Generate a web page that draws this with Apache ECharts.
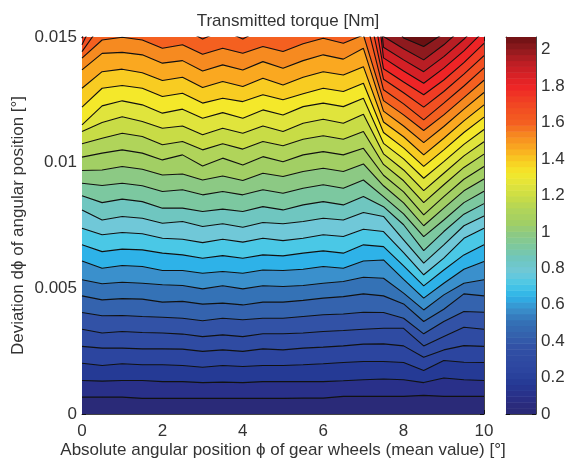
<!DOCTYPE html>
<html><head><meta charset="utf-8">
<style>html,body{margin:0;padding:0;background:#fff}#c{width:566px;height:464px}</style>
<script src="https://cdn.jsdelivr.net/npm/echarts@6/dist/echarts.min.js"></script>
</head><body><div id="c"></div>
<script>
const chartTitle = 'Transmitted torque [Nm]';
const xTitle = 'Absolute angular position \u03d5 of gear wheels (mean value) [\u00b0]';
const yTitle = 'Deviation d\u03d5 of angular position [\u00b0]';
const positions = [0,0.5,1,1.5,2,2.5,3,3.5,4,4.5,5,5.5,6,6.5,7,7.5,8,8.5,9,9.5,10];
const levelStep = 0.068;
const colorbarMax = 2.07;
const colorbarSteps = 64;
const bandColors = ['#2a2a78','#293089','#253a95','#2c459f','#2f4ba2','#3252a6','#3463ae','#3472b6','#3a90cc','#2eb2e8','#4ac8e6','#70c8d8','#6fc6c0','#7cc8a0','#8cc984','#a2cf64','#b0d45a','#c8dc46','#e0e43c','#f4e82a','#f8cc22','#faa820','#f68a20','#f46020','#f25022','#f03c24','#ee2426','#d42026','#b81e24','#8e1a1e','#6a1012'];
// Deviation (millidegrees) at which each contour level crosses each position column
const level01 = [.67,.67,.67,.62,.62,.62,.62,.62,.62,.62,.62,.63,.63,.70,.70,.70,.70,.74,.70,.70,.70];
const level02 = [1.33,1.31,1.33,1.33,1.29,1.29,1.25,1.27,1.25,1.29,1.29,1.29,1.29,1.32,1.36,1.39,1.36,1.25,1.43,1.36,1.33];
const level03 = [2.02,1.93,2.00,1.96,1.96,1.93,1.86,1.93,1.89,1.93,1.93,1.96,2.00,2.05,2.09,2.09,2.05,1.73,2.13,2.06,2.05];
const level04 = [2.69,2.62,2.62,2.59,2.59,2.58,2.49,2.55,2.49,2.59,2.55,2.62,2.66,2.71,2.78,2.79,2.71,2.26,2.55,2.72,2.69];
const level05 = [3.37,3.22,3.28,3.24,3.22,3.18,3.08,3.15,3.08,3.19,3.19,3.22,3.28,3.32,3.37,3.41,3.41,2.71,3.08,3.45,3.37];
const level06 = [4.04,3.91,3.92,3.88,3.85,3.81,3.71,3.81,3.75,3.81,3.81,3.88,3.95,3.98,4.05,4.04,3.81,3.19,3.68,4.08,4.05];
const level07 = [4.70,4.54,4.59,4.57,4.45,4.48,4.37,4.41,4.34,4.45,4.45,4.52,4.61,4.67,4.78,4.70,4.38,3.68,4.17,4.78,4.70];
const level08 = [5.34,5.18,5.24,5.20,5.14,5.11,4.98,5.10,4.98,5.10,5.07,5.11,5.20,5.27,5.44,5.40,4.81,4.14,4.74,5.20,5.34];
const level09 = [6.09,5.80,5.91,5.87,5.71,5.71,5.60,5.67,5.60,5.73,5.71,5.76,5.87,5.80,6.09,6.13,5.36,4.61,5.20,5.76,6.07];
const level10 = [6.73,6.46,6.56,6.53,6.40,6.33,6.20,6.30,6.20,6.33,6.29,6.40,6.49,6.40,6.73,6.66,5.89,5.10,5.73,6.33,6.73];
const level11 = [7.39,7.13,7.22,7.17,6.99,6.95,6.82,6.95,6.84,6.99,6.90,6.99,7.13,7.06,7.35,7.26,6.42,5.54,6.20,6.99,7.39];
const level12 = [8.12,7.72,7.86,7.79,7.59,7.66,7.46,7.57,7.43,7.62,7.57,7.66,7.79,7.72,8.02,7.86,6.93,6.00,6.73,7.49,7.88];
const level13 = [8.68,8.41,8.55,8.45,8.19,8.19,8.06,8.15,8.06,8.25,8.12,8.32,8.45,8.32,8.65,8.25,7.53,6.50,7.26,7.95,8.37];
const level14 = [9.18,9.09,9.18,9.08,8.85,8.92,8.72,8.85,8.72,8.92,8.78,8.98,9.12,8.98,9.31,8.65,7.96,7.06,7.72,8.41,8.86];
const level15 = [9.69,9.71,9.85,9.74,9.51,9.55,9.31,9.47,9.29,9.58,9.45,9.65,9.78,9.65,9.95,9.08,8.40,7.49,8.19,8.88,9.35];
const level16 = [10.22,10.38,10.51,10.38,10.11,10.31,9.87,10.18,9.91,10.24,10.04,10.31,10.44,10.31,10.57,9.50,8.84,7.92,8.65,9.34,9.85];
const level17 = [10.75,10.97,11.17,11.04,10.71,10.84,10.51,10.75,10.54,10.84,10.67,10.93,11.07,10.93,11.24,9.93,9.28,8.41,9.12,9.81,10.34];
const level18 = [11.24,11.60,11.83,11.64,11.37,11.46,11.11,11.37,11.17,11.46,11.24,11.57,11.73,11.57,11.93,10.35,9.71,8.89,9.58,10.27,10.83];
const level19 = [11.50,12.26,12.46,12.30,11.97,12.13,11.77,11.99,11.77,12.10,11.90,12.23,12.37,12.23,12.56,10.77,10.15,9.38,10.04,10.73,11.32];
const level20 = [12.21,12.96,13.07,12.96,12.63,12.76,12.37,12.56,12.43,12.70,12.50,12.74,12.96,12.83,13.16,11.20,10.59,9.85,10.51,11.20,11.81];
const level21 = [12.96,13.62,13.72,13.58,13.27,13.40,12.99,13.23,13.03,13.36,13.09,13.40,13.62,13.49,13.82,11.62,11.03,10.31,10.97,11.66,12.30];
const level22 = [13.69,14.35,14.39,14.29,13.96,14.06,13.65,13.89,13.69,14.02,13.76,14.06,14.29,14.12,14.55,12.05,11.46,10.80,11.44,12.13,12.79];
const level23 = [14.16,14.88,14.99,14.88,14.55,14.69,14.31,14.55,14.35,14.62,14.42,14.73,14.95,14.75,15.08,12.47,11.90,11.28,11.90,12.59,13.28];
const level24 = [14.42,15.55,15.75,15.61,15.22,15.35,14.92,15.28,14.92,15.35,15.08,15.41,15.61,15.41,16.08,12.90,12.34,11.70,12.37,13.05,13.77];
const level25 = [14.69,16.34,16.41,16.28,15.88,16.01,15.61,15.95,15.61,16.01,15.75,16.08,16.28,16.08,17.01,13.32,12.78,12.21,12.83,13.52,14.26];
const level26 = [14.95,17.1,17.1,17.0,16.6,16.7,16.3,16.6,16.3,16.7,16.4,16.8,17.0,16.8,18.33,13.74,13.21,12.70,13.29,13.98,14.75];
const level27 = [15.41,17.8,17.8,17.7,17.3,17.4,17.0,17.3,17.0,17.4,17.1,17.5,17.7,17.5,20.98,14.17,13.65,13.16,13.76,14.45,15.24];
const level28 = [15.95,18.5,18.5,18.4,18.0,18.1,17.7,18.0,17.7,18.1,17.8,18.2,18.4,18.2,22.3,14.59,14.09,13.62,14.22,14.91,15.75];
const level29 = [16.5,19.2,19.2,19.1,18.7,18.8,18.4,18.7,18.4,18.8,18.5,18.9,19.1,18.9,23.6,15.02,14.53,14.09,14.69,15.41,16.28];
const level30 = [17.1,20,20,19.8,19.4,19.5,19.1,19.4,19.1,19.5,19.2,19.6,19.8,19.6,25,16.08,14.96,14.62,15.15,16.08,16.87];
const contours = [level01,level02,level03,level04,level05,level06,level07,level08,level09,level10,level11,level12,level13,level14,level15,level16,level17,level18,level19,level20,level21,level22,level23,level24,level25,level26,level27,level28,level29,level30];

const FONT = '"Liberation Sans", Arial, sans-serif';
const INK = '#333333';
const BOX = '#444444';
const labelStyle = {color: INK, fontFamily: FONT, fontSize: 17};
function boxAxis(extra) {
  return Object.assign({
    type: 'value', axisLine: {show: true, onZero: false, lineStyle: {color: BOX, width: 1}},
    axisTick: {show: true, inside: true, length: 4, lineStyle: {color: '#111', width: 1}},
    splitLine: {show: false}, axisLabel: {show: false}
  }, extra);
}
const lastCol = positions.length - 1;
const ceilingDeg = 0.03;
function renderBand(params, api) {
  const k = params.dataIndex;
  const pts = [];
  if (k === 0) {
    pts.push(api.coord([positions[0], 0]), api.coord([positions[lastCol], 0]));
  } else {
    positions.forEach((x, i) => pts.push(api.coord([x, contours[k - 1][i] / 1000])));
  }
  pts.push(api.coord([positions[lastCol], ceilingDeg]), api.coord([positions[0], ceilingDeg]));
  return {type: 'polygon', shape: {points: pts}, style: {fill: bandColors[k], stroke: bandColors[k], lineWidth: 0.5}};
}
// The colorbar shows the same colour map in finer, smooth steps
const barStepSize = colorbarMax / colorbarSteps;
function barColor(v) {
  const t = Math.max(0, Math.min(1, (v / levelStep - 0.5) / (bandColors.length - 1)));
  return echarts.color.lerp(t, bandColors);
}
function renderBarStep(params, api) {
  const s = params.dataIndex;
  const lo = s * barStepSize, hi = (s + 1) * barStepSize;
  const a = api.coord([0, hi]), b = api.coord([1, lo]);
  return {type: 'rect', shape: {x: a[0], y: a[1], width: b[0] - a[0], height: b[1] - a[1] + 0.5}, style: {fill: barColor((lo + hi) / 2)}};
}
const bandItems = bandColors.map((c, k) => [0, 0, k]);
const barItems = Array.from({length: colorbarSteps}, (_, s) => [0, 0, s]);
const series = [
  {type: 'custom', xAxisIndex: 0, yAxisIndex: 0, renderItem: renderBand, clip: true, data: bandItems, encode: {x: 0, y: 1}, silent: true, z: 1},
  {type: 'custom', xAxisIndex: 2, yAxisIndex: 2, renderItem: renderBarStep, clip: true, data: barItems, encode: {x: 0, y: 1}, silent: true, z: 1}
];
contours.forEach((ys, k) => series.push({
  type: 'line', xAxisIndex: 0, yAxisIndex: 0, symbol: 'none', silent: true, z: 2, clip: true,
  lineStyle: {color: '#111', width: 1.1},
  data: positions.map((x, i) => [x, ys[i] / 1000])
}));
const chart = echarts.init(document.getElementById('c'), null, {renderer: 'canvas'});
chart.setOption({
  animation: false, backgroundColor: '#fff',
  title: {text: chartTitle, left: 283, top: 8, textAlign: 'center', textStyle: {color: INK, fontFamily: FONT, fontSize: 17, fontWeight: 'normal'}},
  grid: [
    {left: 82, top: 37, width: 402, height: 377, containLabel: false, outerBoundsMode: 'none'},
    {left: 506, top: 37, width: 30, height: 377, containLabel: false, outerBoundsMode: 'none'}
  ],
  xAxis: [
    boxAxis({gridIndex: 0, position: 'bottom', min: 0, max: 10, interval: 2, axisLabel: Object.assign({show: true, margin: 9}, labelStyle),
      name: xTitle, nameLocation: 'middle', nameGap: 28, nameMoveOverlap: false, nameTextStyle: labelStyle}),
    boxAxis({gridIndex: 0, position: 'top', min: 0, max: 10, interval: 2}),
    boxAxis({gridIndex: 1, position: 'bottom', min: 0, max: 1, axisTick: {show: false}}),
    boxAxis({gridIndex: 1, position: 'top', min: 0, max: 1, axisTick: {show: false}})
  ],
  yAxis: [
    boxAxis({gridIndex: 0, position: 'left', min: 0, max: 0.015, interval: 0.005, axisLabel: Object.assign({show: true, margin: 5}, labelStyle),
      name: yTitle, nameLocation: 'middle', nameGap: 55, nameMoveOverlap: false, nameTextStyle: labelStyle}),
    boxAxis({gridIndex: 0, position: 'right', min: 0, max: 0.015, interval: 0.005}),
    boxAxis({gridIndex: 1, position: 'right', min: 0, max: colorbarMax, interval: 0.2, axisLabel: Object.assign({show: true, margin: 5, showMaxLabel: false}, labelStyle)}),
    boxAxis({gridIndex: 1, position: 'left', min: 0, max: colorbarMax, interval: 0.2})
  ],
  series: series
});
</script></body></html>
